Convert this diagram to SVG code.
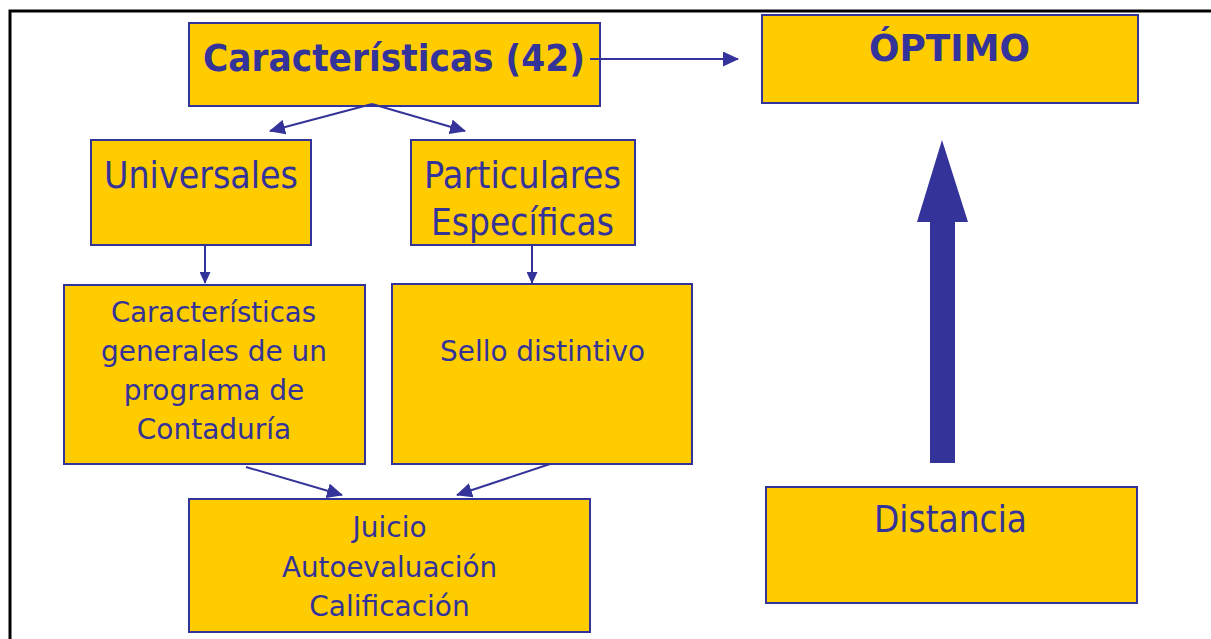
<svg xmlns="http://www.w3.org/2000/svg" width="1211" height="639" viewBox="0 0 1211 639">
<style>
.box{fill:#FFCC00;stroke:#333399;stroke-width:2}
.t{font-family:"DejaVu Sans",Verdana,sans-serif;fill:#333399;text-anchor:middle}
.c{stroke:#333399;stroke-width:2;fill:none}
</style>
<defs>
<marker id="ah" markerWidth="12" markerHeight="11" refX="11" refY="5.5" orient="auto" markerUnits="userSpaceOnUse"><path d="M0,0 L12,5.5 L0,11 Z" fill="#333399"/></marker>
<marker id="ah2" markerWidth="16" markerHeight="15" refX="15" refY="7.5" orient="auto" markerUnits="userSpaceOnUse"><path d="M0,0 L16,7.5 L0,15 Z" fill="#333399"/></marker>
</defs>
<rect width="1211" height="639" fill="#fff"/>
<path d="M10,639 V11 H1211" fill="none" stroke="#000" stroke-width="3"/>
<g id="n-caracteristicas"><rect class="box" x="189" y="23" width="411" height="83"/><text class="t" x="394" y="71" font-size="38" font-weight="bold" textLength="382" lengthAdjust="spacingAndGlyphs">Características (42)</text></g>
<g id="n-optimo"><rect class="box" x="762" y="15" width="376" height="88"/><text class="t" x="949.5" y="61" font-size="38" font-weight="bold" textLength="161" lengthAdjust="spacingAndGlyphs">ÓPTIMO</text></g>
<g id="n-universales"><rect class="box" x="91" y="140" width="220" height="105"/><text class="t" x="201" y="188" font-size="38" textLength="194" lengthAdjust="spacingAndGlyphs">Universales</text></g>
<g id="n-particulares"><rect class="box" x="411" y="140" width="224" height="105"/><text class="t" x="522.5" y="188" font-size="38" textLength="197" lengthAdjust="spacingAndGlyphs">Particulares</text><text class="t" x="522.5" y="235" font-size="38" textLength="183" lengthAdjust="spacingAndGlyphs">Específicas</text></g>
<g id="n-generales"><rect class="box" x="64" y="285" width="301" height="179"/><text class="t" x="213.5" y="322" font-size="28" textLength="205" lengthAdjust="spacingAndGlyphs">Características</text><text class="t" x="214" y="361" font-size="28" textLength="226" lengthAdjust="spacingAndGlyphs">generales de un</text><text class="t" x="214" y="400" font-size="28">programa de</text><text class="t" x="214" y="439" font-size="28">Contaduría</text></g>
<g id="n-sello"><rect class="box" x="392" y="284" width="300" height="180"/><text class="t" x="542.5" y="361" font-size="28" textLength="205" lengthAdjust="spacingAndGlyphs">Sello distintivo</text></g>
<g id="n-juicio"><rect class="box" x="189" y="499" width="401" height="133"/><text class="t" x="389.5" y="537" font-size="28">Juicio</text><text class="t" x="389.5" y="577" font-size="28" textLength="215" lengthAdjust="spacingAndGlyphs">Autoevaluación</text><text class="t" x="389.5" y="616" font-size="28">Calificación</text></g>
<g id="n-distancia"><rect class="box" x="766" y="487" width="371" height="116"/><text class="t" x="950.5" y="532" font-size="38" textLength="153" lengthAdjust="spacingAndGlyphs">Distancia</text></g>
<g id="connectors">
<line class="c" x1="590" y1="59" x2="738" y2="59" marker-end="url(#ah2)"/>
<line class="c" x1="372" y1="104" x2="270" y2="131" marker-end="url(#ah2)"/>
<line class="c" x1="372" y1="104" x2="465" y2="131" marker-end="url(#ah2)"/>
<line class="c" x1="205" y1="245" x2="205" y2="283" marker-end="url(#ah)"/>
<line class="c" x1="532" y1="245" x2="532" y2="283" marker-end="url(#ah)"/>
<line class="c" x1="246" y1="467" x2="342" y2="495" marker-end="url(#ah2)"/>
<line class="c" x1="550" y1="464" x2="457" y2="495" marker-end="url(#ah2)"/>
<path d="M930,463 V222 H917 L942,140 L968,222 H955 V463 Z" fill="#333399"/>
</g>
</svg>
